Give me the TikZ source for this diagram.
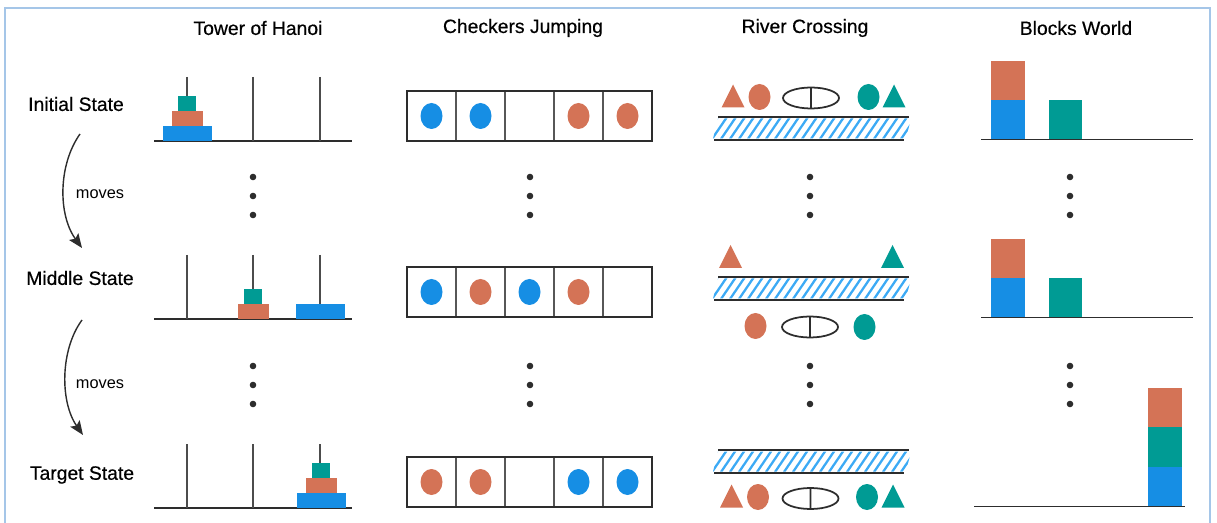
\documentclass[tikz,border=0pt]{standalone}
\usepackage{fontspec}
\setmainfont{Liberation Sans}
\newfontfamily\medfont[FakeBold=0.45]{Liberation Sans}
\usetikzlibrary{arrows.meta}
\definecolor{ora}{RGB}{212,115,86}
\definecolor{blu}{RGB}{22,142,228}
\definecolor{tea}{RGB}{0,155,148}
\definecolor{hat}{RGB}{60,170,245}
\definecolor{frm}{RGB}{165,198,232}
\definecolor{ink}{RGB}{45,45,45}
\tikzstyle{ground}=[draw=ink, line width=1.1pt]
\tikzstyle{peg}=[draw=ink!85, line width=1.1pt]
\tikzstyle{title}=[font=\medfont\fontsize{11}{13}\selectfont, text=black]
\tikzstyle{rowlab}=[font=\medfont\fontsize{11}{13}\selectfont, text=black]
\tikzstyle{movearrow}=[draw=ink, line width=0.8pt, -{Stealth[length=8pt,width=6.5pt,inset=1.5pt]}]
\newcommand{\disk}[4]{\fill[#4] ({#1-#3/2},#2) rectangle ({#1+#3/2},{#2-15});}
\newcommand{\blk}[3]{\fill[#3] (#1,#2) rectangle ({#1+33.5},{#2-39.3});}
\newcommand{\tri}[3]{\fill[#3] (#1,#2) -- ({#1+23},#2) -- ({#1+11.5},{#2-23}) -- cycle;}
\newcommand{\boat}[2]{\draw[ink, line width=1pt] (#1,#2) ellipse [x radius=28, y radius=10.5]
  ({#1},{#2-10.5}) -- ({#1},{#2+10.5});}
\newcommand{\river}[1]{%
  \begin{scope}
    \clip (718,{#1+1.5}) -- (911,{#1+1.5}) -- (906,{#1+21.5}) -- (713,{#1+21.5}) -- cycle;
    \foreach \s in {694,703,...,920} {
      \draw[hat, line width=1.3pt] (\s,{#1+22}) -- ({\s+15},{#1});
    }
  \end{scope}
  \draw[ground] (718,#1) -- (909,#1);
  \draw[ground] (714,{#1+23}) -- (904,{#1+23});}
\newcommand{\board}[1]{%
  \draw[ink!80, line width=0.85pt] \foreach \i in {1,...,4} {({407+49*\i},#1) -- ({407+49*\i},{#1+50})};
  \draw[ink, line width=1.1pt] (407,#1) rectangle (652,{#1+50});}

\begin{document}
\begin{tikzpicture}[x=0.02cm, y=-0.02cm]
\useasboundingbox (0,0) rectangle (1217,523);
\draw[frm, line width=0.85pt] (5,540) -- (5,8) -- (1210,8) -- (1210,540);

% column titles
\node[title] (t1) at (258,28) {Tower of Hanoi};
\node[title] (t2) at (523,28) {Checkers Jumping};
\node[title] (t3) at (805,28) {River Crossing};
\node[title] (t4) at (1076,28) {Blocks World};

% row labels and moves
\node[rowlab] (init) at (76,104) {Initial State};
\node[rowlab] (mid) at (80,278) {Middle State};
\node[rowlab] (targ) at (82,475) {Target State};
\coordinate (m1a) at (80,134);
\coordinate (m1b) at (82,248);
\coordinate (m2a) at (82,320);
\coordinate (m2b) at (83,435);
\draw[movearrow] (m1a) .. controls (58,165) and (58,215) .. (m1b);
\draw[movearrow] (m2a) .. controls (60,350) and (60,402) .. (m2b);
\node[font=\fontsize{9.3}{11}\selectfont] (mv1) at (100,194) {moves};
\node[font=\fontsize{9.3}{11}\selectfont] (mv2) at (100,384) {moves};

% dots
\foreach \x in {253,530,810,1070}
  \foreach \y in {177,196,215,366,385,404}
    \fill[ink] (\x,\y) circle (3.3);

% tower of hanoi
\foreach \b in {141,319,508} {
  \draw[ground] (154,\b) -- (352,\b);
  \foreach \p in {187,253,320}
    \draw[peg] (\p,{\b-64}) -- (\p,\b);
}
\disk{187}{141}{49}{blu} \disk{187}{126}{31}{ora} \disk{187}{111}{18}{tea}
\disk{253.8}{319}{31}{ora} \disk{253}{304}{18}{tea} \disk{320.5}{319}{49}{blu}
\disk{321}{508}{49}{blu} \disk{321}{493}{31}{ora} \disk{321}{478}{18}{tea}

% checkers jumping
\board{91}
\foreach \i/\c in {1/blu,2/blu,4/ora,5/ora}
  \fill[\c] ({407+49*\i-24.5},116) ellipse [x radius=11, y radius=13];
\board{267}
\foreach \i/\c in {1/blu,2/ora,3/blu,4/ora}
  \fill[\c] ({407+49*\i-24.5},292) ellipse [x radius=11, y radius=13];
\board{457}
\foreach \i/\c in {1/ora,2/ora,4/blu,5/blu}
  \fill[\c] ({407+49*\i-24.5},482) ellipse [x radius=11, y radius=13];

% river crossing
\river{117}
\tri{721.5}{107.5}{ora} \fill[ora] (759.5,97) ellipse [x radius=11, y radius=13];
\boat{811}{98}
\fill[tea] (868.5,97) ellipse [x radius=11, y radius=13]; \tri{882.5}{107.5}{tea}
\river{277}
\tri{719}{268}{ora} \tri{881}{268}{tea}
\fill[ora] (755.5,326) ellipse [x radius=11, y radius=13];
\boat{810}{327}
\fill[tea] (864.5,327) ellipse [x radius=11, y radius=13];
\river{450}
\tri{720}{507.5}{ora} \fill[ora] (758,497) ellipse [x radius=11, y radius=13];
\boat{810.5}{498.5}
\fill[tea] (867,497) ellipse [x radius=11, y radius=13]; \tri{881.5}{507.5}{tea}

% blocks world
\blk{991}{139.3}{blu} \blk{991}{100}{ora} \blk{1048.5}{139.3}{tea}
\draw[ground] (981,139.5) -- (1193,139.5);
\blk{991}{317.5}{blu} \blk{991}{278.2}{ora} \blk{1048.5}{317.5}{tea}
\draw[ground] (981,317.5) -- (1193,317.5);
\blk{1148}{506}{blu} \blk{1148}{466.7}{tea} \blk{1148}{427.4}{ora}
\draw[ground] (974,506.5) -- (1185,506.5);
\end{tikzpicture}
\end{document}
